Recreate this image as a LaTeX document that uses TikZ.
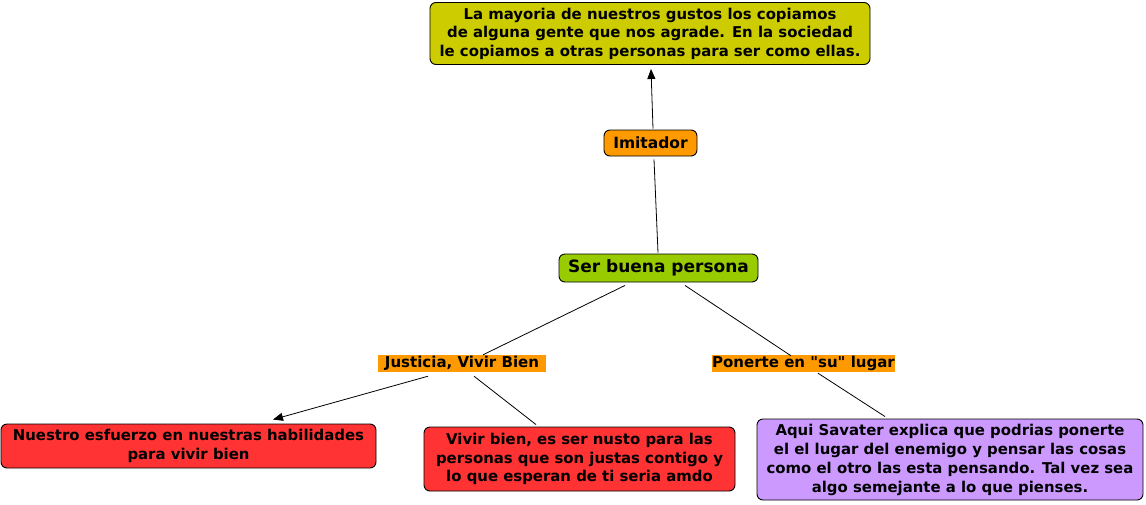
\documentclass[tikz,border=0pt]{standalone}
\usepackage{fontspec}
\setmainfont{DejaVu Sans}
\usetikzlibrary{arrows.meta,positioning,calc}
\definecolor{olive}{HTML}{CCCC00}
\definecolor{naranja}{HTML}{FF9900}
\definecolor{verde}{HTML}{99CC00}
\definecolor{rojo}{HTML}{FF3333}
\definecolor{lila}{HTML}{CC99FF}
\tikzset{
  concept/.style={draw=black,line width=0.9pt,rounded corners=6pt,inner sep=0pt,align=center,font=\bfseries\fontsize{14.9}{18.5}\selectfont},
  enlace/.style={fill=naranja,inner sep=0pt,font=\bfseries\fontsize{15}{17}\selectfont},
  con/.style={line width=0.8pt}
}

\begin{document}
\begin{tikzpicture}[x=1pt,y=-1pt,>={Triangle[length=10pt,width=8pt]}]
\useasboundingbox (0,0) rectangle (1146,504);
\node[concept,fill=olive,minimum width=440pt,minimum height=62pt] (gustos) at (650,33.5) {La mayoria de nuestros gustos los copiamos\\de alguna gente que nos agrade. En la sociedad\\le copiamos a otras personas para ser como ellas.};
\node[concept,fill=naranja,minimum width=93pt,minimum height=26pt,font=\bfseries\fontsize{15.5}{18}\selectfont] (imit) at (650.5,143) {Imitador};
\node[concept,fill=verde,minimum width=199pt,minimum height=28pt,font=\bfseries\fontsize{17}{19}\selectfont] (ser) at (658.5,268) {Ser buena persona};
\node[enlace,minimum width=168pt,minimum height=17pt] (just) at (462,363.5) {Justicia, Vivir Bien};
\node[enlace,minimum width=183pt,minimum height=17pt] (pon) at (803.5,363.5) {Ponerte en \textquotedbl su\textquotedbl{} lugar};
\node[concept,fill=rojo,minimum width=375pt,minimum height=44pt] (esf) at (188.5,446) {Nuestro esfuerzo en nuestras habilidades\\para vivir bien};
\node[concept,fill=rojo,minimum width=311pt,minimum height=64pt] (vivir) at (579.5,459) {Vivir bien, es ser nusto para las\\personas que son justas contigo y\\lo que esperan de ti seria amdo};
\node[concept,fill=lila,minimum width=386pt,minimum height=81pt,font=\bfseries\fontsize{14.9}{19}\selectfont] (savater) at (950,459.5) {Aqui Savater explica que podrias ponerte\\el el lugar del enemigo y pensar las cosas\\como el otro las esta pensando. Tal vez sea\\algo semejante a lo que pienses.};
% conectores
\draw[con] ($(ser.north)+(-0.5,-1)$) -- ($(imit.south)+(3.5,3)$);
\draw[con,->] ($(imit.north)+(2.5,-1)$) -- ($(gustos.south)+(1,4)$);
\draw[con] ($(ser.south)+(-33.5,3)$) -- ($(just.north)+(21,0)$);
\draw[con] ($(ser.south)+(26.5,3)$) -- ($(pon.north)+(-12.5,1)$);
\draw[con,->] ($(just.south)+(-34,4)$) -- ($(esf.north)+(84.5,-4)$);
\draw[con] ($(just.south)+(12,4)$) -- ($(vivir.north)+(-43.5,-2)$);
\draw[con] ($(pon.south)+(14.5,1)$) -- ($(savater.north)+(-65,-2)$);
\end{tikzpicture}
\end{document}
